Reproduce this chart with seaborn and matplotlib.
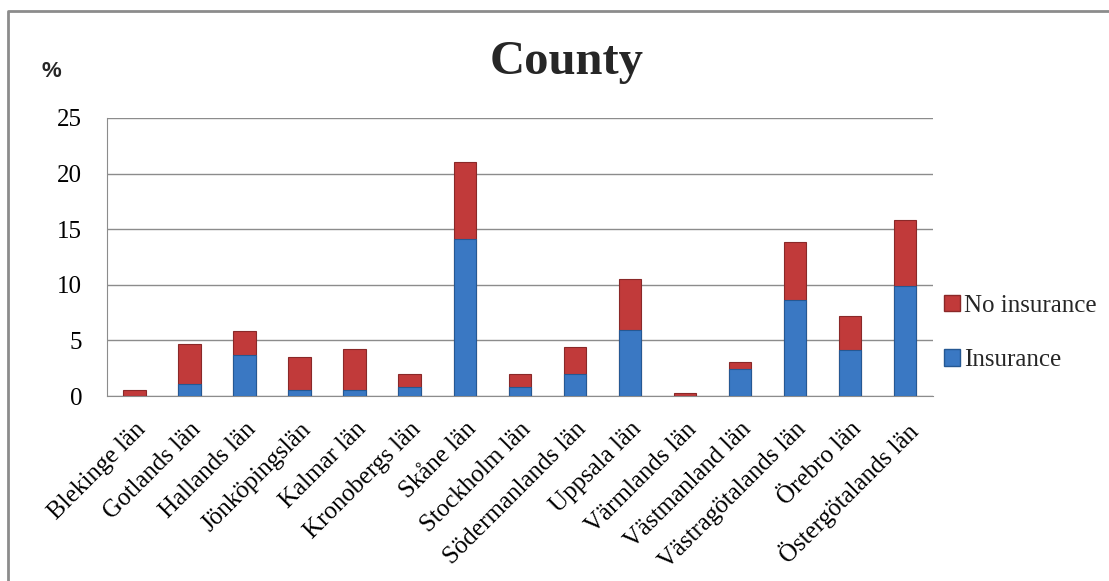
import numpy as np
import pandas as pd
import matplotlib.pyplot as plt
import seaborn as sns
from matplotlib.lines import Line2D
from matplotlib.patches import Patch

sns.set_style("white")
plt.rcParams['font.family'] = ['Liberation Serif', 'DejaVu Serif']

counties = ['Blekinge län', 'Gotlands län', 'Hallands län', 'Jönköpingslän',
            'Kalmar län', 'Kronobergs län', 'Skåne län', 'Stockholm län',
            'Södermanlands län', 'Uppsala län', 'Värmlands län',
            'Västmanland län', 'Västragötalands län', 'Örebro län',
            'Östergötalands län']
insurance = [0.0, 1.05, 3.7, 0.5, 0.5, 0.8, 14.15, 0.8, 1.95, 5.95, 0.0,
             2.4, 8.6, 4.1, 9.85]
no_insurance = [0.5, 3.65, 2.15, 3.05, 3.75, 1.2, 6.85, 1.2, 2.5, 4.55, 0.25,
                0.7, 5.25, 3.05, 5.95]
yticks = [0, 5, 10, 15, 20, 25]

df = pd.DataFrame({'County': counties, 'Insurance': insurance,
                   'No insurance': no_insurance})
df['Total'] = df['Insurance'] + df['No insurance']

red = '#C13A3A'
blue = '#3A78C3'

fig = plt.figure(figsize=(11.09, 5.81), dpi=100)
ax = fig.add_axes([0.0965, 0.3184, 0.7445, 0.4786])

# stacked: total (red) underneath, insurance (blue) over it
sns.barplot(data=df, x='County', y='Total', color=red, saturation=1,
            width=0.41, edgecolor='#8A2828', linewidth=0.8, ax=ax, zorder=3)
sns.barplot(data=df, x='County', y='Insurance', color=blue, saturation=1,
            width=0.41, edgecolor='#255893', linewidth=0.8, ax=ax, zorder=4)

ax.set_ylim(0, 25)
ax.set_yticks(yticks)
ax.set_xlim(-0.5, len(counties) - 0.5)
ax.yaxis.grid(True, color='#8C8C8C', linewidth=1.0, zorder=0)
ax.set_axisbelow(True)
for s in ['top', 'right']:
    ax.spines[s].set_visible(False)
ax.spines['left'].set_color('#8C8C8C')
ax.spines['bottom'].set_color('#8C8C8C')
ax.tick_params(axis='both', length=0, labelsize=18, colors='black')
ax.tick_params(axis='y', pad=18)
ax.tick_params(axis='x', pad=16)
ax.set_xticks(range(len(counties)))
ax.set_xticklabels(counties, rotation=45, ha='right', rotation_mode='anchor')
ax.set_xlabel('')
ax.set_ylabel('')

fig.text(0.511, 0.893, 'County', ha='center', va='center', fontsize=35,
         fontweight='bold')
fig.text(0.046, 0.877, '%', ha='center', va='center', fontsize=16,
         fontweight='bold', family=['Liberation Sans', 'DejaVu Sans'])

handles = [Patch(facecolor=red, edgecolor='#8A2828', label='No insurance'),
           Patch(facecolor=blue, edgecolor='#255893', label='Insurance')]
fig.legend(handles=handles, loc='center left', bbox_to_anchor=(0.831, 0.427),
           frameon=False, fontsize=18, handlelength=0.65, handleheight=0.65,
           handletextpad=0.15, labelspacing=1.3)

# outer chart frame (only top and left edges visible)
fig.add_artist(Line2D([8 / 1109, 8 / 1109, 1.0], [0.0, 1 - 11 / 581, 1 - 11 / 581],
                      transform=fig.transFigure, color='#8C8C8C', linewidth=2))

fig.savefig('out.png', dpi=100)
